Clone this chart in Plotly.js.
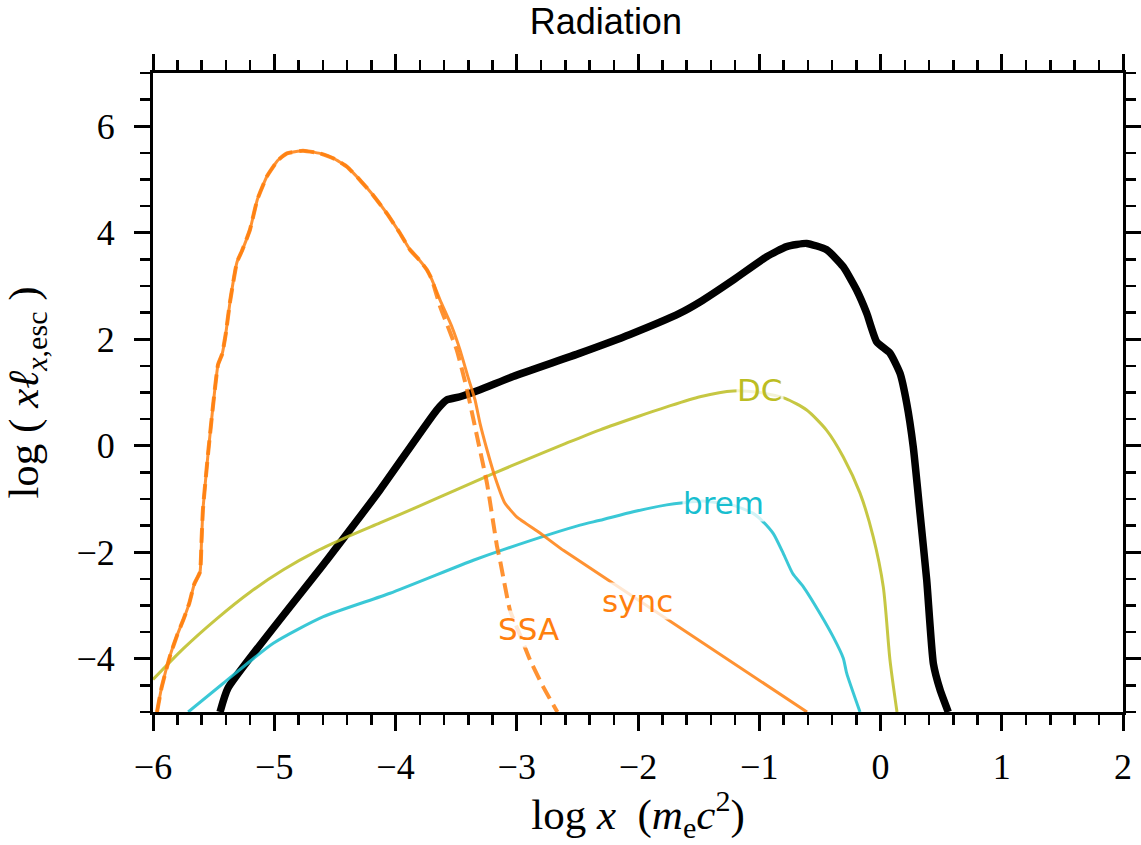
<!DOCTYPE html>
<html>
<head>
<meta charset="utf-8">
<script src="https://cdn.plot.ly/plotly-3.0.1.min.js"></script>
<style>html,body{margin:0;padding:0;background:#fff;}#chart{width:1141px;height:845px;}</style>
</head>
<body>
<div id="chart"></div>
<script>
// ---- data (log x, log x*l_x,esc) ----
const totalX = [-5.447, -5.381, -4.567, -4.128, -3.66, -3.578, -3.468, -3.303, -3.03, -2.478, -2.066, -1.654, -1.489, -1.216, -0.939, -0.774, -0.609, -0.444, -0.307, -0.196, -0.114, -0.031, 0.078, 0.161, 0.216, 0.27, 0.326, 0.381, 0.436, 0.491, 0.559];
const totalY = [-5.0, -4.55, -2.15, -0.83, 0.67, 0.86, 0.92, 1.05, 1.30, 1.74, 2.09, 2.49, 2.70, 3.11, 3.55, 3.74, 3.80, 3.68, 3.36, 2.92, 2.49, 1.95, 1.74, 1.36, 0.80, -0.02, -1.27, -2.52, -4.09, -4.58, -5.0];

const dcX = [-6.0, -5.75, -5.475, -5.2, -4.925, -4.65, -4.375, -4.128, -3.8, -3.5, -3.2, -2.9, -2.6, -2.313, -2.0, -1.763, -1.489, -1.214, -1.0, -0.787, -0.609, -0.444, -0.307, -0.169, -0.06, 0.023, 0.078, 0.136];
const dcY = [-4.39, -3.81, -3.25, -2.75, -2.33, -1.98, -1.69, -1.45, -1.13, -0.83, -0.53, -0.24, 0.04, 0.30, 0.55, 0.73, 0.92, 1.03, 1.00, 0.89, 0.67, 0.29, -0.21, -0.89, -1.71, -2.65, -4.02, -5.0];

const bremX = [-5.71, -5.42, -5.008, -4.595, -4.045, -3.358, -3.11, -2.478, -2.313, -2.039, -1.763, -1.626, -1.45, -1.214, -1.05, -0.98, -0.884, -0.802, -0.724, -0.636, -0.499, -0.39, -0.307, -0.279, -0.169];
const bremY = [-5.0, -4.46, -3.71, -3.21, -2.77, -2.15, -1.95, -1.49, -1.40, -1.24, -1.11, -1.07, -1.04, -1.12, -1.27, -1.40, -1.65, -2.02, -2.40, -2.65, -3.15, -3.59, -3.99, -4.27, -5.0];

// synchrotron emitted (solid) and after self-absorption (dashed) share the low-energy part
const syncX = [-5.967, -5.93, -5.86, -5.80, -5.75, -5.70, -5.66, -5.612, -5.60, -5.588, -5.546, -5.505, -5.464, -5.43, -5.40, -5.365, -5.307, -5.266, -5.20, -5.14, -5.06, -4.97, -4.895, -4.763, -4.623, -4.515, -4.40, -4.293, -4.186, -4.07, -3.963, -3.88, -3.80, -3.74, -3.70, -3.633, -3.534, -3.468, -3.402, -3.344, -3.303, -3.245, -3.179, -3.097, -2.998, -2.808, -2.619, -0.606];
const syncY = [-5.0, -4.55, -3.95, -3.55, -3.27, -2.95, -2.6, -2.37, -1.8, -1.19, -0.15, 0.75, 1.52, 1.72, 2.1, 2.70, 3.45, 3.66, 4.06, 4.62, 5.06, 5.36, 5.49, 5.54, 5.49, 5.40, 5.24, 4.99, 4.71, 4.36, 3.99, 3.68, 3.48, 3.30, 3.12, 2.74, 2.23, 1.80, 1.29, 0.86, 0.42, -0.08, -0.59, -1.08, -1.34, -1.64, -1.96, -5.0];

const ssaX = [-5.967, -5.93, -5.86, -5.80, -5.75, -5.70, -5.66, -5.612, -5.60, -5.588, -5.546, -5.505, -5.464, -5.43, -5.40, -5.365, -5.307, -5.266, -5.20, -5.14, -5.06, -4.97, -4.895, -4.763, -4.623, -4.515, -4.40, -4.293, -4.186, -4.07, -3.963, -3.88, -3.80, -3.74, -3.70, -3.633, -3.495, -3.41, -3.327, -3.245, -3.162, -3.138, -3.056, -2.97, -2.891, -2.784, -2.665];
const ssaY = [-5.0, -4.55, -3.95, -3.55, -3.27, -2.95, -2.6, -2.37, -1.8, -1.19, -0.15, 0.75, 1.52, 1.72, 2.1, 2.70, 3.45, 3.66, 4.06, 4.62, 5.06, 5.36, 5.49, 5.54, 5.49, 5.40, 5.24, 4.99, 4.71, 4.36, 3.99, 3.68, 3.48, 3.30, 3.12, 2.62, 1.80, 1.05, 0.17, -0.71, -1.90, -2.15, -3.09, -3.57, -4.02, -4.52, -5.0];

// inline curve labels
const labelText = ['DC', 'brem', 'sync', 'SSA'];
const labelX = [-0.994, -1.299, -2.008, -2.907];
const labelY = [1.05, -1.08, -2.92, -3.45];

const xTickVals = [-6, -5, -4, -3, -2, -1, 0, 1, 2];
const yTickVals = [-4, -2, 0, 2, 4, 6];

// ---- styling ----
const orange = '#ff7f0e', olive = '#bcbd22', cyan = '#17becf';
const labelColors = [olive, cyan, orange, orange];

const traces = [
  {x: totalX, y: totalY, mode: 'lines', line: {color: '#000', width: 7.5, shape: 'spline', smoothing: 0.5}, name: 'total'},
  {x: dcX, y: dcY, mode: 'lines', line: {color: olive, width: 3, shape: 'spline', smoothing: 0.7}, opacity: 0.85, name: 'DC'},
  {x: bremX, y: bremY, mode: 'lines', line: {color: cyan, width: 3, shape: 'spline', smoothing: 0.6}, opacity: 0.85, name: 'brem'},
  {x: syncX, y: syncY, mode: 'lines', line: {color: orange, width: 3, shape: 'spline', smoothing: 0.4}, opacity: 0.85, name: 'sync'},
  {x: ssaX, y: ssaY, mode: 'lines', line: {color: orange, width: 4, dash: '15px,7px', shape: 'spline', smoothing: 0.4}, opacity: 0.85, name: 'SSA'}
];

const serif = 'Liberation Serif, serif';
const axisCommon = {
  showgrid: false, zeroline: false, showline: true, linecolor: '#000', linewidth: 3,
  mirror: 'allticks', ticks: 'outside', ticklen: 16, tickwidth: 3, tickcolor: '#000',
  tickfont: {family: serif, size: 36, color: '#000'}
};

const layout = {
  width: 1141, height: 845,
  margin: {l: 153, r: 18, t: 73, b: 133, pad: 0},
  paper_bgcolor: '#fff', plot_bgcolor: '#fff',
  showlegend: false,
  title: {text: 'Radiation', font: {family: 'Liberation Sans, Arial, sans-serif', size: 36, color: '#000'},
          x: 0.531, xref: 'container', xanchor: 'center', y: 0.975, yref: 'container', yanchor: 'middle'},
  xaxis: Object.assign({}, axisCommon, {
    range: [-6, 2], tickmode: 'array', tickvals: xTickVals, ticklabelstandoff: 5,
    minor: {dtick: 0.2, tick0: -6, ticks: 'outside', ticklen: 10, tickwidth: 2.5, tickcolor: '#000', showgrid: false},
    title: {text: 'log <i>x</i>  (<i>m</i><sub>e</sub><i>c</i><sup>2</sup>)', font: {family: serif, size: 43, color: '#000'}, standoff: 10}
  }),
  yaxis: Object.assign({}, axisCommon, {
    range: [-5, 7], tickmode: 'array', tickvals: yTickVals, ticklabelstandoff: 12,
    minor: {dtick: 0.5, tick0: 0, ticks: 'outside', ticklen: 10, tickwidth: 2.5, tickcolor: '#000', showgrid: false},
    title: {text: 'log ( <i>xℓ</i><sub><i>x</i>,esc</sub> )', font: {family: serif, size: 43, color: '#000'}, standoff: 27}
  }),
  annotations: labelText.map((t, i) => ({
    x: labelX[i], y: labelY[i], xref: 'x', yref: 'y', text: t, showarrow: false,
    font: {family: 'DejaVu Sans, sans-serif', size: 31, color: labelColors[i]},
    bgcolor: 'rgba(255,255,255,0.78)', borderpad: 0, xanchor: 'center', yanchor: 'middle'
  }))
};

Plotly.newPlot('chart', traces, layout, {staticPlot: true, displayModeBar: false});
</script>
</body>
</html>
